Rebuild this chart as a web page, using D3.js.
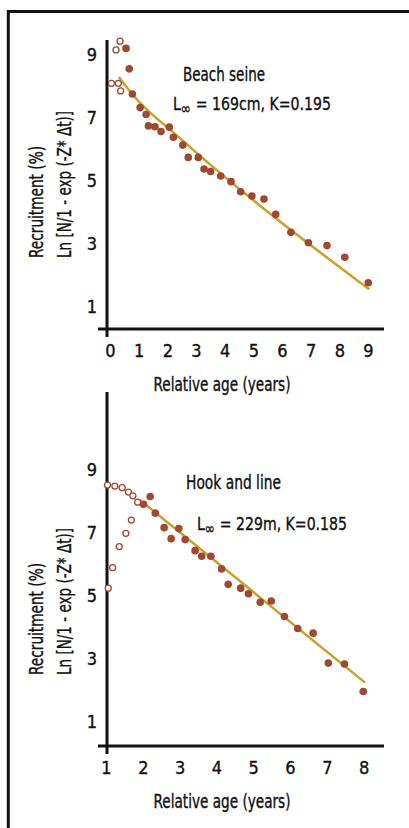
<!DOCTYPE html>
<html>
<head>
<meta charset="utf-8">
<script src="https://cdn.jsdelivr.net/npm/d3@7"></script>
<style>
    body { margin: 0; background: #fff; }
    svg text { font-family: "Liberation Sans Narrow", "DejaVu Sans Condensed", "Roboto Condensed", sans-serif; fill: #111; stroke: #111; stroke-width: 0.35px; }
</style>
</head>
<body>
<svg id="chart" width="409" height="828"></svg>
<script>
// Beach seine panel
const seineTicksX = [0, 1, 2, 3, 4, 5, 6, 7, 8, 9];
const seineOpenAge = [0.35, 0.21, 0.05, 0.29, 0.37];
const seineOpenLn = [9.44, 9.16, 8.10, 8.10, 7.86];
const seineAge = [0.56, 0.67, 0.78, 1.05, 1.26, 1.34, 1.57, 1.78, 2.07, 2.21, 2.54, 2.73, 3.08, 3.28, 3.51, 3.86, 4.22, 4.56, 4.95, 5.37, 5.78, 6.31, 6.92, 7.57, 8.19, 9.01];
const seineLn = [9.21, 8.56, 7.76, 7.33, 7.11, 6.75, 6.72, 6.57, 6.71, 6.39, 6.14, 5.75, 5.75, 5.38, 5.30, 5.16, 4.98, 4.66, 4.52, 4.43, 3.94, 3.37, 3.04, 2.95, 2.58, 1.77];
const seineFitAge = [0.31, 0.77, 2.44, 9.04];
const seineFitLn = [8.30, 7.76, 6.36, 1.56];

// Hook and line panel
const hookTicksX = [1, 2, 3, 4, 5, 6, 7, 8];
const hookOpenAge = [1.04, 1.24, 1.44, 1.61, 1.73, 1.86, 1.69, 1.54, 1.36, 1.18, 1.06];
const hookOpenLn = [8.52, 8.49, 8.44, 8.30, 8.18, 7.98, 7.41, 6.99, 6.57, 5.90, 5.25];
const hookAge = [2.02, 2.20, 2.34, 2.58, 2.77, 2.98, 3.15, 3.42, 3.60, 3.85, 4.14, 4.32, 4.66, 4.87, 5.19, 5.49, 5.85, 6.21, 6.63, 7.04, 7.48, 7.99];
const hookLn = [7.91, 8.16, 7.63, 7.17, 6.82, 7.14, 6.79, 6.44, 6.26, 6.26, 5.86, 5.37, 5.25, 5.07, 4.80, 4.84, 4.35, 3.97, 3.82, 2.87, 2.84, 1.97];
const hookFitAge = [1.92, 8.04];
const hookFitLn = [8.05, 2.25];

const ticksY = [1, 3, 5, 7, 9];
const xTitle = "Relative age (years)";
const yTitle1 = "Recruitment (%)";
const yTitle2 = "Ln [N/1 - exp (-Z* \u0394t)]";

const dotColor = "#a04832";
const fitColor = "#c9a12a";

const svg = d3.select("#chart");

svg.append("rect").attr("width", 409).attr("height", 828).attr("fill", "#fff");

// outer frame (left and top edges)
svg.append("path")
    .attr("d", "M8.3,828V11.5H409")
    .attr("fill", "none")
    .attr("stroke", "#111")
    .attr("stroke-width", 3);

// squeeze a label to the narrow width of the original typeface
const squeeze = (sel, w) => sel.attr("textLength", w).attr("lengthAdjust", "spacingAndGlyphs");

const drawPanel = (p) => {
    const g = svg.append("g");

    const x = d3.scaleLinear().domain(p.xDomain).range(p.xRange);
    const y = d3.scaleLinear().domain([1, 9]).range(p.yRange);

    // axes as a cross
    g.append("line")
        .attr("x1", p.axisX).attr("x2", p.axisX)
        .attr("y1", p.axisTop).attr("y2", p.axisY + 8)
        .attr("stroke", "#111").attr("stroke-width", 3);
    g.append("line")
        .attr("x1", p.axisX - 9).attr("x2", 384)
        .attr("y1", p.axisY).attr("y2", p.axisY)
        .attr("stroke", "#111").attr("stroke-width", 3);

    const xAxis = g.append("g")
        .attr("transform", `translate(0,${p.axisY})`)
        .call(d3.axisBottom(x).tickValues(p.ticksX).tickFormat(d3.format("d")).tickSize(0).tickPadding(15));
    xAxis.select(".domain").remove();
    xAxis.selectAll("text").attr("font-size", 18).attr("font-family", null);

    const yAxis = g.append("g")
        .attr("transform", `translate(${p.axisX},0)`)
        .call(d3.axisLeft(y).tickValues(ticksY).tickFormat(d3.format("d")).tickSize(0).tickPadding(10));
    yAxis.select(".domain").remove();
    yAxis.selectAll("text").attr("font-size", 18).attr("font-family", null);

    // titles
    g.append("text")
        .attr("x", 222).attr("y", p.axisY + 62)
        .attr("text-anchor", "middle")
        .attr("font-size", 19)
        .text(xTitle)
        .call(squeeze, 137);

    const yt = g.append("g").attr("transform", `translate(0,${p.axisY - 71}) rotate(-90)`);
    yt.append("text").attr("x", 0).attr("y", 43).attr("font-size", 19).text(yTitle1).call(squeeze, 112);
    yt.append("text").attr("x", 0).attr("y", 71).attr("font-size", 19).text(yTitle2).call(squeeze, 147);

    // fitted line
    const line = d3.line()
        .x(d => x(d[0]))
        .y(d => y(d[1]))
        .curve(d3.curveMonotoneX);
    g.append("path")
        .datum(d3.zip(p.fitAge, p.fitLn))
        .attr("d", line)
        .attr("fill", "none")
        .attr("stroke", fitColor)
        .attr("stroke-width", 2.5);

    // excluded points
    g.selectAll(".open")
        .data(d3.zip(p.openAge, p.openLn))
        .join("circle")
        .attr("class", "open")
        .attr("cx", d => x(d[0]))
        .attr("cy", d => y(d[1]))
        .attr("r", 3)
        .attr("fill", "#fff")
        .attr("stroke", dotColor)
        .attr("stroke-width", 1.3);

    // points used in the regression
    g.selectAll(".dot")
        .data(d3.zip(p.age, p.ln))
        .join("circle")
        .attr("class", "dot")
        .attr("cx", d => x(d[0]))
        .attr("cy", d => y(d[1]))
        .attr("r", 3.8)
        .attr("fill", dotColor);

    // annotation
    g.append("text")
        .attr("x", p.nameX).attr("y", p.nameY)
        .attr("font-size", 19)
        .text(p.name)
        .call(squeeze, p.nameW);
    const ann = g.append("text")
        .attr("x", p.paramX).attr("y", p.paramY)
        .attr("font-size", 18)
        .call(squeeze, p.paramW);
    ann.append("tspan").text("L");
    ann.append("tspan").attr("font-size", 16).attr("dy", 4).text("\u221E");
    ann.append("tspan").attr("dy", -4).text(p.param);
}

drawPanel({
    xDomain: [0, 9], xRange: [110, 368], yRange: [307, 55],
    axisX: 107, axisY: 329, axisTop: 40,
    ticksX: seineTicksX,
    openAge: seineOpenAge, openLn: seineOpenLn,
    age: seineAge, ln: seineLn,
    fitAge: seineFitAge, fitLn: seineFitLn,
    name: "Beach seine", nameX: 183, nameY: 81, nameW: 82,
    param: " = 169cm, K=0.195", paramX: 173, paramY: 110, paramW: 158
});

drawPanel({
    xDomain: [1, 8], xRange: [106, 363.6], yRange: [722, 470],
    axisX: 107, axisY: 746, axisTop: 392,
    ticksX: hookTicksX,
    openAge: hookOpenAge, openLn: hookOpenLn,
    age: hookAge, ln: hookLn,
    fitAge: hookFitAge, fitLn: hookFitLn,
    name: "Hook and line", nameX: 186, nameY: 489, nameW: 95,
    param: " = 229m, K=0.185", paramX: 197, paramY: 530, paramW: 150
});
</script>
</body>
</html>
